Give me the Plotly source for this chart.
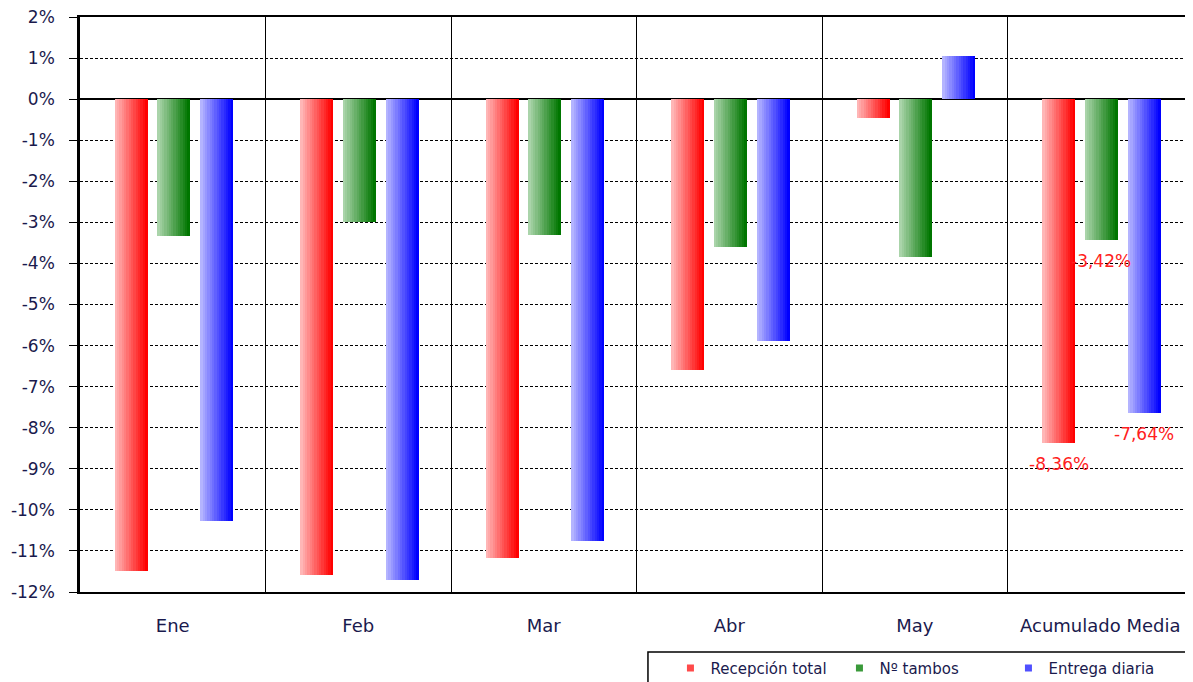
import plotly.graph_objects as go

categories = ["Ene", "Feb", "Mar", "Abr", "May", "Acumulado Media"]
series_names = ["Recepción total", "Nº tambos", "Entrega diaria"]
recepcion_total = [-11.50, -11.58, -11.17, -6.60, -0.46, -8.36]
n_tambos = [-3.33, -3.00, -3.31, -3.60, -3.85, -3.42]
entrega_diaria = [-10.27, -11.70, -10.76, -5.89, 1.05, -7.64]
y_ticks = list(range(-12, 3))

series_values = [recepcion_total, n_tambos, entrega_diaria]
light = [(255, 182, 182), (170, 212, 170), (180, 180, 255)]
dark = [(255, 0, 0), (0, 118, 0), (0, 0, 255)]
legend_cols = ["#ff4a4a", "#3a9a3a", "#5050ff"]
offsets = [-0.312, -0.083, 0.150]
bar_w = 0.176
N = 14
txt_col = "#1a1a4d"

x_idx = list(range(len(categories)))
fig = go.Figure()
for s in range(3):
    for k in range(N):
        t = k / (N - 1)
        c = tuple(round(light[s][i] + (dark[s][i] - light[s][i]) * t) for i in range(3))
        col = "rgb(%d,%d,%d)" % c
        fig.add_trace(go.Bar(
            x=x_idx, y=series_values[s],
            offset=offsets[s] + k * bar_w / N - 0.001,
            width=bar_w / N + 0.002,
            marker=dict(color=col, line=dict(width=0)),
            name=series_names[s],
            legendgroup=series_names[s],
            showlegend=False,
            hoverinfo="skip",
        ))
    fig.add_trace(go.Scatter(
        x=[None], y=[None], mode="markers",
        marker=dict(symbol="square", size=7, color=legend_cols[s]),
        name=series_names[s], legendgroup=series_names[s], showlegend=True,
    ))

last = len(categories) - 1
for s in range(3):
    v = series_values[s][last]
    fig.add_annotation(
        x=last + offsets[s] + bar_w / 2, y=v, xref="x", yref="y",
        text=("%.2f%%" % v).replace(".", ","),
        showarrow=False, yanchor="top", yshift=-9, xshift=0,
        font=dict(family="DejaVu Sans", size=17, color="#ff2020"),
    )

# legend frame
fig.add_shape(type="rect", xref="paper", yref="paper",
              x0=0.5103, x1=0.9973, y0=-0.1043, y1=-0.25,
              line=dict(color="black", width=1.5), fillcolor="rgba(0,0,0,0)")

fig.update_layout(
    width=1185, height=674,
    barmode="overlay",
    bargap=0,
    plot_bgcolor="white", paper_bgcolor="white",
    margin=dict(l=72, r=0, t=9, b=90, autoexpand=False),
    font=dict(family="DejaVu Sans", size=18, color=txt_col),
    legend=dict(
        orientation="h", x=0.5305, xanchor="left", y=-0.104, yanchor="top",
        bgcolor="rgba(0,0,0,0)", borderwidth=0,
        font=dict(family="DejaVu Sans", size=15, color=txt_col),
        itemwidth=30, entrywidth=124, entrywidthmode="pixels",
        traceorder="normal",
    ),
)
fig.update_xaxes(
    range=[-0.5, len(categories) - 0.5],
    tickvals=x_idx, ticktext=categories,
    showgrid=False, zeroline=False,
    showline=True, linecolor="black", linewidth=1.5, mirror=True,
    ticks="", ticklabelstandoff=17,
    tickfont=dict(size=18),
    minor=dict(tick0=0.5, dtick=1, showgrid=True, gridcolor="black", gridwidth=1.2),
)
fig.update_yaxes(
    range=[-12, 2], tickvals=y_ticks,
    ticktext=["%d%%" % v for v in y_ticks],
    tickfont=dict(size=17),
    ticklabeloverflow="allow",
    showgrid=True, gridcolor="black", griddash="3px,2px", gridwidth=1.4,
    zeroline=True, zerolinecolor="black", zerolinewidth=1.5,
    showline=True, linecolor="black", linewidth=2.5,
    ticks="outside", ticklen=8, tickcolor="black", ticklabelstandoff=11,
)

fig.write_html("out.html")
